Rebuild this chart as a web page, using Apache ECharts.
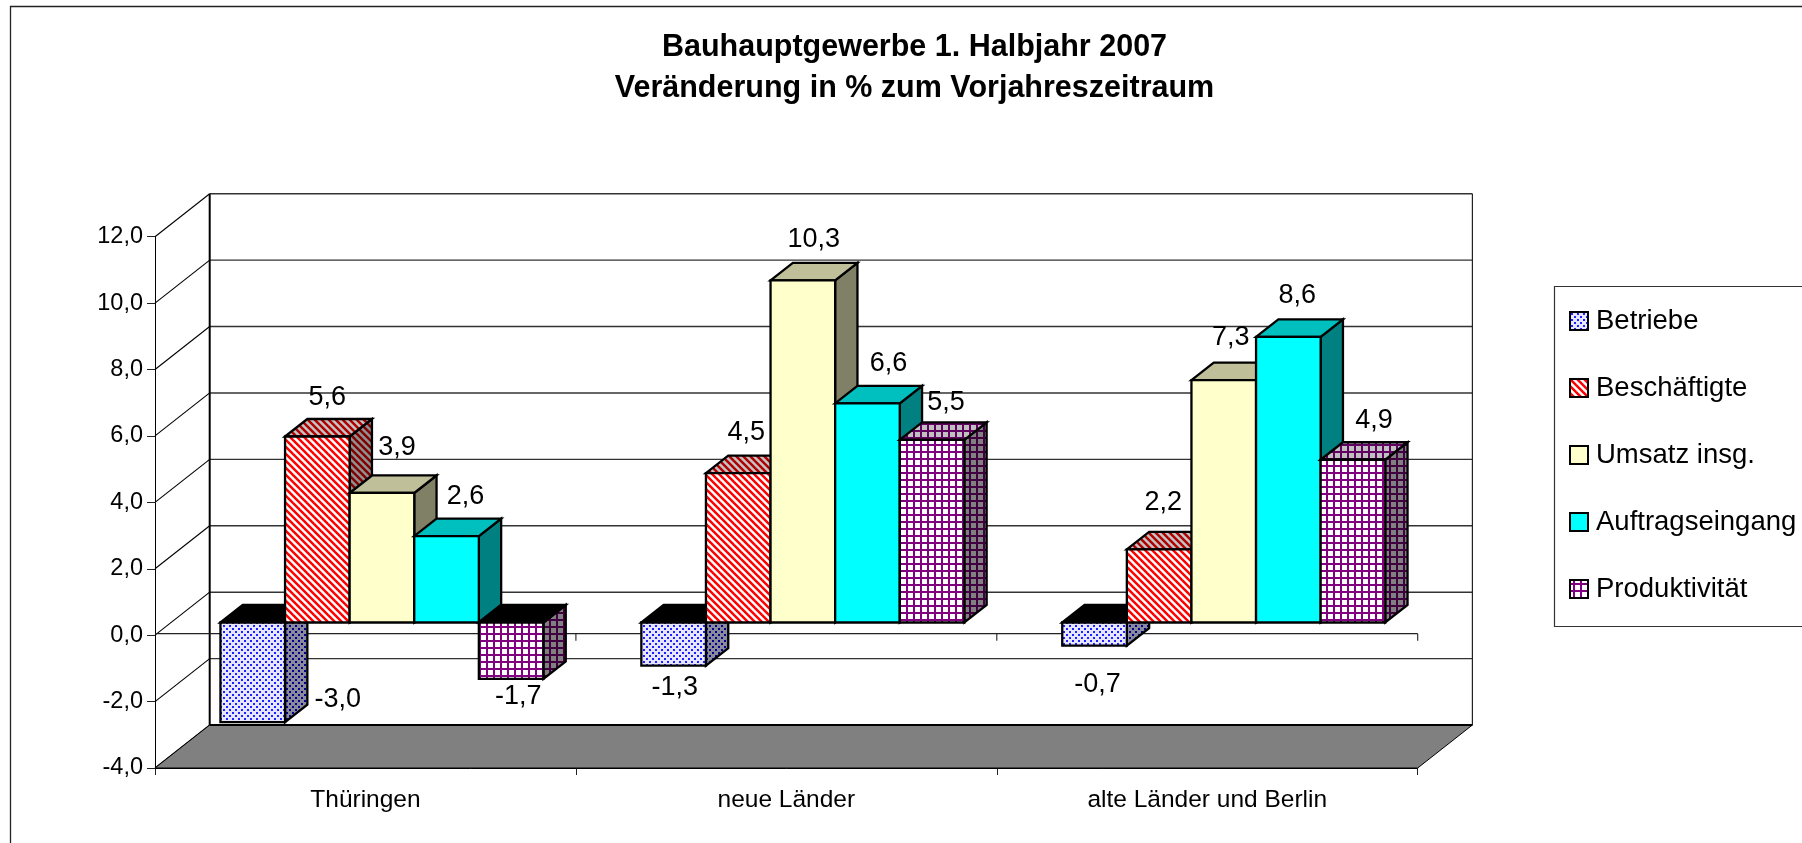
<!DOCTYPE html>
<html>
<head>
<meta charset="utf-8">
<style>html,body{margin:0;padding:0;background:#fff}#c{width:1802px;height:843px}</style>
<script src="https://cdn.jsdelivr.net/npm/echarts@6/dist/echarts.min.js"></script>
</head>
<body>
<div id="c"></div>
<script>
const titleText = 'Bauhauptgewerbe 1. Halbjahr 2007\nVeränderung in % zum Vorjahreszeitraum';
const categories = ['Thüringen', 'neue Länder', 'alte Länder und Berlin'];
const seriesNames = ['Betriebe', 'Beschäftigte', 'Umsatz insg.', 'Auftragseingang', 'Produktivität'];
const betriebe = [-3.0, -1.3, -0.7];
const beschaeftigte = [5.6, 4.5, 2.2];
const umsatz = [3.9, 10.3, 7.3];
const auftragseingang = [2.6, 6.6, 8.6];
const produktivitaet = [-1.7, 5.5, 4.9];
const yTicks = [-4, -2, 0, 2, 4, 6, 8, 10, 12];

// label placement relative to the bar's end (pixels), kept apart from the data
const labelNudges = [
  [[85, -23], [1, 22], [3, 39]],
  [[10, -39], [8, -41], [4, -47]],
  [[15, -45], [11, -41], [7, -43]],
  [[19, -40], [21, -40], [9, -41]],
  [[7, 18], [14, -37], [21, -39]]
];

const FONT = '"Liberation Sans", Arial, sans-serif';
const WALL = [54.7, -43];      // front plane -> back wall
const BAR_PLANE = [16.5, -12.7]; // front plane -> front face of the bars
const DEPTH = [22.3, -17.5];   // bar depth
const BAR_W = 64.6;

function tile(size, draw) {
  const c = document.createElement('canvas');
  c.width = c.height = size;
  draw(c.getContext('2d'), size);
  return { image: c, repeat: 'repeat' };
}
function dots(bg, fg) {
  return tile(6, (g, s) => {
    g.fillStyle = bg; g.fillRect(0, 0, s, s);
    g.fillStyle = fg;
    g.fillRect(1, 1, 2, 2); g.fillRect(4, 4, 2, 2);
  });
}
function stripes(bg, fg) {
  return tile(7, (g, s) => {
    g.fillStyle = bg; g.fillRect(0, 0, s, s);
    g.strokeStyle = fg; g.lineWidth = 2.5;
    [-s, 0, s].forEach(o => {
      g.beginPath(); g.moveTo(o - 1, -1); g.lineTo(o + s + 1, s + 1); g.stroke();
    });
  });
}
function checks(bg, fg) {
  return tile(7, (g, s) => {
    g.fillStyle = bg; g.fillRect(0, 0, s, s);
    g.fillStyle = fg;
    g.fillRect(0, 3, s, 2); g.fillRect(3, 0, 2, s);
  });
}

const fills = [
  { front: dots('#e6e6ff', '#2020ff'), top: '#000', side: dots('#8a8a9a', '#000090') },
  { front: stripes('#ffffff', '#ff0000'), top: stripes('#c4c4c4', '#b00000'), side: stripes('#909090', '#800000') },
  { front: '#ffffcc', top: '#bfbf99', side: '#808066' },
  { front: '#00ffff', top: '#00bfbf', side: '#008080' },
  { front: checks('#ffffff', '#800080'), top: checks('#c0c0c0', '#600060'), side: checks('#808080', '#400040') }
];
const seriesValues = [betriebe, beschaeftigte, umsatz, auftragseingang, produktivitaet];

const chart = echarts.init(document.getElementById('c'), null, { renderer: 'canvas' });

function line(x1, y1, x2, y2, stroke, w) {
  return { type: 'line', shape: { x1, y1, x2, y2 }, style: { stroke, lineWidth: w } };
}
function poly(points, fill) {
  return { type: 'polygon', shape: { points }, style: { fill, stroke: '#000', lineWidth: 2.3, lineJoin: 'miter' } };
}

function renderScene(params, api) {
  const cs = params.coordSys;
  const left = cs.x, right = cs.x + cs.width;
  const yBottom = api.coord([0, yTicks[0]])[1];
  const yTop = api.coord([0, yTicks[yTicks.length - 1]])[1];
  const y0 = api.coord([0, 0])[1] - 1.5;
  const kids = [];
  // back wall grid lines and left wall diagonals
  yTicks.forEach(v => {
    const y = api.coord([0, v])[1];
    if (v !== yTicks[0]) kids.push(line(left + WALL[0], y + WALL[1], right + WALL[0], y + WALL[1], '#333', 1.4));
    kids.push(line(left, y, left + WALL[0], y + WALL[1], '#000', 1.1));
  });
  // floor
  kids.push({
    type: 'polygon',
    shape: { points: [[left, yBottom], [right, yBottom], [right + WALL[0], yBottom + WALL[1]], [left + WALL[0], yBottom + WALL[1]]] },
    style: { fill: '#808080', stroke: '#000', lineWidth: 1 }
  });
  kids.push(line(left + WALL[0], yBottom + WALL[1], right + WALL[0], yBottom + WALL[1], '#000', 2.2));
  // wall edges
  kids.push(line(left + WALL[0], yTop + WALL[1], left + WALL[0], yBottom + WALL[1], '#000', 2));
  kids.push(line(right + WALL[0], yTop + WALL[1], right + WALL[0], yBottom + WALL[1], '#222', 1.2));
  // category axis line at zero
  kids.push(line(left, y0, right, y0, '#222', 1.3));
  for (let i = 1; i <= categories.length; i++) {
    const x = left + cs.width * i / categories.length;
    kids.push(line(x, y0, x, y0 + 7, '#222', 1.1));
  }
  return { type: 'group', children: kids };
}

function barRect(api, s, catIdx, v) {
  const c0 = api.coord([catIdx, 0]);
  const c1 = api.coord([catIdx, v]);
  const xL = c0[0] + BAR_PLANE[0] + (s - 2.5) * BAR_W;
  return { xL, xR: xL + BAR_W, yBase: c0[1] + BAR_PLANE[1], yVal: c1[1] + BAR_PLANE[1] };
}

function renderBar(s) {
  return function (params, api) {
    const catIdx = api.value(0), v = api.value(1);
    const r = barRect(api, s, catIdx, v);
    const yHi = Math.min(r.yBase, r.yVal), yLo = Math.max(r.yBase, r.yVal);
    const dx = DEPTH[0], dy = DEPTH[1];
    const f = fills[s];
    return {
      type: 'group',
      children: [
        poly([[r.xR, yHi], [r.xR + dx, yHi + dy], [r.xR + dx, yLo + dy], [r.xR, yLo]], f.side),
        poly([[r.xL, yHi], [r.xL + dx, yHi + dy], [r.xR + dx, yHi + dy], [r.xR, yHi]], v < 0 ? '#000' : f.top),
        poly([[r.xL, yHi], [r.xR, yHi], [r.xR, yLo], [r.xL, yLo]], f.front)
      ]
    };
  };
}

function renderLabel(params, api) {
  const s = api.value(0), catIdx = api.value(1), v = api.value(2);
  const r = barRect(api, s, catIdx, v);
  const n = labelNudges[s][catIdx];
  return {
    type: 'text',
    style: {
      x: (r.xL + r.xR) / 2 + n[0], y: r.yVal + n[1],
      text: v.toFixed(1).replace('.', ','),
      fill: '#000', font: '27px ' + FONT, align: 'center', verticalAlign: 'middle'
    }
  };
}

const barSeries = seriesNames.map((name, s) => ({
  type: 'custom',
  name,
  z: 3 + s,
  renderItem: renderBar(s),
  encode: { x: 0, y: 1 },
  itemStyle: { color: fills[s].front, borderColor: '#000', borderWidth: 2 },
  data: seriesValues[s].map((v, i) => [i, v]),
  silent: true
}));

const labelData = [];
seriesValues.forEach((vals, s) => vals.forEach((v, i) => labelData.push([s, i, v])));

chart.setOption({
  animation: false,
  backgroundColor: '#fff',
  title: {
    text: titleText,
    left: 909.5, top: 22.5, textAlign: 'center',
    textStyle: { fontFamily: FONT, fontWeight: 'bold', fontSize: 30.5, lineHeight: 41, color: '#000' }
  },
  grid: { left: 155, top: 236.7, width: 1262.7, height: 531.3, containLabel: false },
  xAxis: {
    type: 'category',
    data: categories,
    boundaryGap: true,
    axisLine: { onZero: false, lineStyle: { color: '#000', width: 1 } },
    axisTick: { show: true, length: 7, alignWithLabel: false, lineStyle: { color: '#222', width: 1 } },
    axisLabel: { color: '#000', fontFamily: FONT, fontSize: 24.5, margin: 20, interval: 0 },
    splitLine: { show: false }
  },
  yAxis: {
    type: 'value',
    min: -4, max: 12, interval: 2,
    axisLine: { show: true, lineStyle: { color: '#000', width: 1 } },
    axisTick: { show: true, length: 8, lineStyle: { color: '#222', width: 1 } },
    axisLabel: { color: '#000', fontFamily: FONT, fontSize: 23.5, margin: 12, formatter: v => v.toFixed(1).replace('.', ',') },
    splitLine: { show: false }
  },
  legend: {
    orient: 'vertical',
    left: 1569, top: 306,
    padding: 0,
    itemWidth: 18, itemHeight: 18, itemGap: 37,
    icon: 'rect',
    textStyle: { color: '#000', fontFamily: FONT, fontSize: 27.5, lineHeight: 30, padding: [0, 0, 0, 3] },
    selectedMode: false,
    data: seriesNames.map((name, s) => ({
      name, icon: 'rect',
      itemStyle: { color: fills[s].front, borderColor: '#000', borderWidth: 2 }
    }))
  },
  graphic: [
    { type: 'rect', z: -1, shape: { x: 10.5, y: 6.5, width: 1900, height: 1000 }, style: { fill: 'none', stroke: '#222', lineWidth: 1.3 } },
    { type: 'rect', z: -1, shape: { x: 1554.5, y: 286.5, width: 400, height: 340 }, style: { fill: '#fff', stroke: '#333', lineWidth: 1.2 } }
  ],
  series: [
    { type: 'custom', name: 'scene', z: 1, renderItem: renderScene, data: [[0, 0]], encode: { x: 0, y: 1 }, silent: true, clip: false }
  ].concat(barSeries, [
    { type: 'custom', name: 'labels', z: 20, renderItem: renderLabel, data: labelData, encode: { x: 1, y: 2 }, silent: true, clip: false }
  ])
});
</script>
</body>
</html>
